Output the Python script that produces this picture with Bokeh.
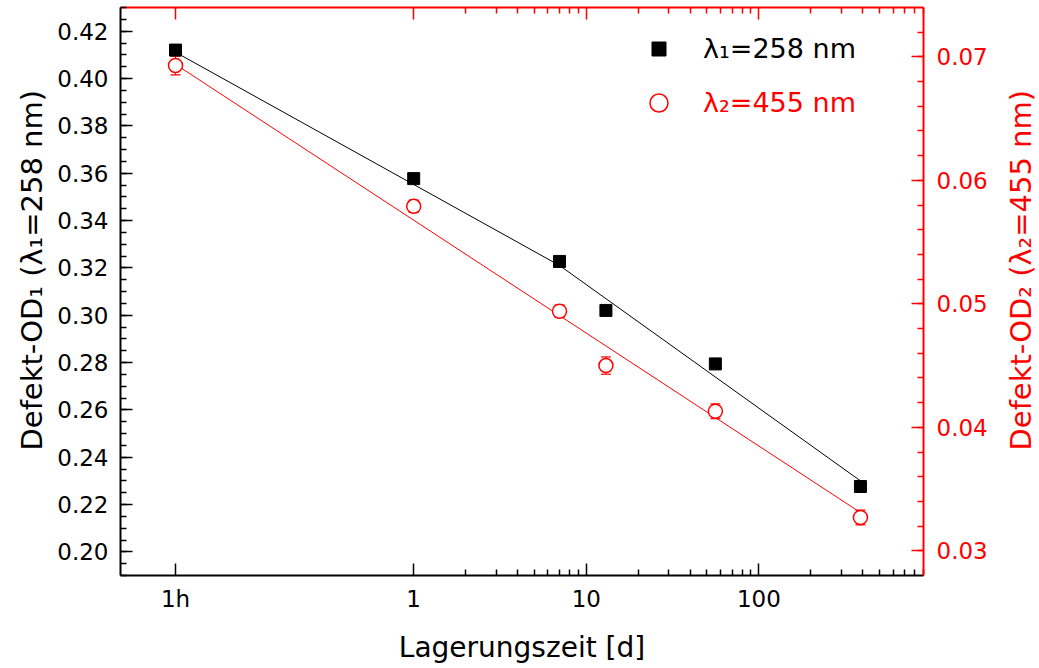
import math
from bokeh.plotting import figure
from bokeh.layouts import row
from bokeh.models import (Range1d, LinearAxis, LogAxis, FixedTicker, SingleIntervalTicker,
                          ColumnDataSource, Whisker, TeeHead, Legend, LegendItem, Label,
                          CustomJSTickFormatter, NumeralTickFormatter)
from bokeh.embed import file_html
from bokeh.resources import INLINE

# ---- data ----
days = [1/24, 1, 7, 13, 56, 388]
od1 = [0.4120, 0.3577, 0.3227, 0.3020, 0.2794, 0.2276]
od2 = [0.0693, 0.0579, 0.0494, 0.0450, 0.0413, 0.0327]
od2_err = [0.00075, 0.0005, 0.0005, 0.0007, 0.0006, 0.0006]

fit1_days = [1/24, 7, 388]
fit1 = [0.4111, 0.3210, 0.2300]
fit2_days = [1/24, 388]
fit2 = [0.0694, 0.0331]

x_tick_values = [1/24, 1, 10, 100]
x_tick_labels = ["1h", "1", "10", "100"]
x_minor_ticks = [m * 10 ** e for e in range(3) for m in range(2, 10)]

label1 = "\u03bb\u2081=258 nm"
label2 = "\u03bb\u2082=455 nm"
ylabel1 = "Defekt-OD\u2081 (\u03bb\u2081=258 nm)"
ylabel2 = "Defekt-OD\u2082 (\u03bb\u2082=455 nm)"
xlabel = "Lagerungszeit [d]"

RED = "#ff0000"
FONT = "DejaVu Sans"
H = 668
LEFT_W, RIGHT_W = 50, 40
MAIN_W = 1039 - LEFT_W - RIGHT_W

p = figure(width=MAIN_W, height=H, x_axis_type="log",
           x_range=Range1d(0.02, 900), y_range=Range1d(0.19, 0.43),
           output_backend="svg", toolbar_location=None,
           min_border_left=120 - LEFT_W, min_border_right=MAIN_W - (923 - LEFT_W),
           min_border_top=7, min_border_bottom=93)
p.extra_y_ranges = {"od2": Range1d(0.028, 0.074)}
p.xgrid.visible = False
p.ygrid.visible = False
p.outline_line_color = None
p.background_fill_color = "white"
p.border_fill_color = "white"

def style_axis(ax, color):
    ax.axis_line_color = color
    ax.axis_line_width = 2
    ax.major_tick_line_color = color
    ax.minor_tick_line_color = color
    ax.major_tick_line_width = 1.5
    ax.minor_tick_line_width = 1.5
    ax.major_tick_in = 12
    ax.major_tick_out = 0
    ax.minor_tick_in = 6
    ax.minor_tick_out = 0
    ax.major_label_text_color = color
    ax.major_label_text_font = FONT
    ax.major_label_text_font_size = "23px"
    ax.axis_label_text_color = color
    ax.axis_label_text_font = FONT
    ax.axis_label_text_font_size = "28px"
    ax.axis_label_text_font_style = "normal"

xfmt = CustomJSTickFormatter(args=dict(vals=x_tick_values, labs=x_tick_labels), code="""
for (let i = 0; i < vals.length; i++) {
  if (Math.abs(Math.log(tick) - Math.log(vals[i])) < 1e-6) { return labs[i]; }
}
return "";
""")

xb = p.xaxis[0]
xb.ticker = FixedTicker(ticks=x_tick_values, minor_ticks=x_minor_ticks)
xb.formatter = xfmt
xb.axis_label = xlabel
style_axis(xb, "black")
xb.major_label_standoff = 10
xb.axis_label_standoff = 16

yl = p.yaxis[0]
yl.ticker = SingleIntervalTicker(interval=0.02, num_minor_ticks=4)
yl.formatter = NumeralTickFormatter(format="0.00")
style_axis(yl, "black")
yl.major_label_standoff = 12

yr = LinearAxis(y_range_name="od2",
                ticker=SingleIntervalTicker(interval=0.01, num_minor_ticks=5),
                formatter=NumeralTickFormatter(format="0.00"))
style_axis(yr, RED)
yr.major_label_standoff = 13
p.add_layout(yr, "right")

xt = LogAxis(ticker=FixedTicker(ticks=x_tick_values, minor_ticks=x_minor_ticks),
             formatter=CustomJSTickFormatter(code='return "";'))
style_axis(xt, RED)
xt.major_label_text_font_size = "1px"
xt.major_label_standoff = 0
p.add_layout(xt, "above")

# ---- fit lines ----
p.line(fit1_days, fit1, line_color="black", line_width=1)
p.line(fit2_days, fit2, line_color=RED, line_width=1, y_range_name="od2")

# ---- error bars ----
err_src = ColumnDataSource(dict(x=days,
                                lo=[v - e for v, e in zip(od2, od2_err)],
                                hi=[v + e for v, e in zip(od2, od2_err)]))
wh = Whisker(source=err_src, base="x", lower="lo", upper="hi", dimension="height",
             y_range_name="od2", line_color=RED, line_width=1.2,
             upper_head=TeeHead(size=10, line_color=RED, line_width=1.2),
             lower_head=TeeHead(size=10, line_color=RED, line_width=1.2))
p.add_layout(wh)

# ---- markers ----
r2 = p.scatter(days, od2, marker="circle", size=14, fill_color="white",
               line_color=RED, line_width=1.5, y_range_name="od2")
r1 = p.scatter(days, od1, marker="square", size=12, fill_color="black", line_color="black")

leg1 = Legend(items=[LegendItem(label=label1, renderers=[r1])],
              location=(521, 509), glyph_width=35, glyph_height=35,
              label_standoff=27, padding=0, margin=0, spacing=0,
              border_line_color=None, background_fill_alpha=0,
              label_text_font=FONT, label_text_font_size="27px",
              label_text_color="black")
leg2 = Legend(items=[LegendItem(label=label2, renderers=[r2])],
              location=(516, 450), glyph_width=45, glyph_height=45,
              label_standoff=22, padding=0, margin=0, spacing=0,
              border_line_color=None, background_fill_alpha=0,
              label_text_font=FONT, label_text_font_size="27px",
              label_text_color=RED)
p.add_layout(leg1)
p.add_layout(leg2)

# ---- vertical axis titles (both read bottom-to-top), each in a narrow side strip ----
def title_strip(w, cx, text, color):
    q = figure(width=w, height=H, x_range=Range1d(0, w), y_range=Range1d(0, H),
               output_backend="svg", toolbar_location=None,
               x_axis_location=None, y_axis_location=None,
               min_border=0, min_border_left=0, min_border_right=0,
               min_border_top=0, min_border_bottom=0)
    q.xgrid.visible = False
    q.ygrid.visible = False
    q.outline_line_color = None
    q.background_fill_color = "white"
    q.border_fill_color = "white"
    q.add_layout(Label(x=cx, y=H - 309, text=text, angle=math.pi / 2,
                       text_align="center", text_baseline="middle",
                       text_font=FONT, text_font_size="29px", text_color=color))
    return q

ql = title_strip(LEFT_W, 31, ylabel1, "black")
qr = title_strip(RIGHT_W, 1020 - (1039 - RIGHT_W), ylabel2, RED)

layout = row(ql, p, qr, spacing=0)
open("out.html", "w").write(file_html(layout, INLINE))
